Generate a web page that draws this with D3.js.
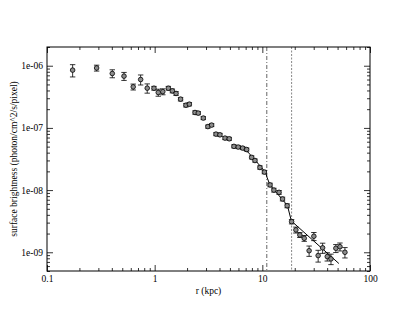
<!DOCTYPE html>
<html><head><meta charset="utf-8">
<script src="https://cdn.jsdelivr.net/npm/d3@7"></script>
<style>body{margin:0;background:#fff}svg{display:block}</style>
</head><body>
<script>
const radius = [0.173,0.289,0.404,0.519,0.632,0.741,0.853,0.985,1.08,1.19,1.34,1.46,1.58,1.74,1.95,2.10,2.37,2.54,2.83,3.12,3.38,3.71,4.04,4.50,4.93,5.45,5.97,6.56,7.15,7.96,8.54,9.50,10.45,11.8,12.8,14.3,15.4,17.0,18.7,20.5,22.3,24.5,27.2,30.1,33.0,36.3,40.1,43.4,48.2,52.6,58.5];
const brightness = [8.5e-7,9.2e-7,7.5e-7,6.8e-7,4.57e-7,6.0e-7,4.36e-7,4.35e-7,3.71e-7,3.83e-7,4.35e-7,3.94e-7,3.58e-7,2.90e-7,2.32e-7,2.41e-7,1.77e-7,1.73e-7,1.44e-7,1.05e-7,1.11e-7,7.95e-8,7.74e-8,6.86e-8,6.68e-8,5.05e-8,4.92e-8,4.74e-8,4.49e-8,3.36e-8,2.99e-8,2.31e-8,1.95e-8,1.21e-8,1.0e-8,9.2e-9,7.2e-9,5.6e-9,3.11e-9,2.29e-9,1.90e-9,1.68e-9,1.06e-9,1.81e-9,8.85e-10,1.18e-9,8.53e-10,7.83e-10,1.16e-9,1.23e-9,1.0e-9];
const errors = [1.9e-7,1.0e-7,1.1e-7,1.0e-7,5e-8,1.1e-7,7.4e-8,3e-8,4.8e-8,4.2e-8,3e-8,2.8e-8,2.5e-8,1.9e-8,1.5e-8,1.5e-8,1.1e-8,1.0e-8,8e-9,6e-9,6e-9,4.5e-9,4.3e-9,3.8e-9,3.7e-9,2.8e-9,2.7e-9,2.6e-9,2.5e-9,1.9e-9,1.7e-9,1.4e-9,1.2e-9,8e-10,7e-10,6.5e-10,5e-10,4e-10,2.5e-10,2.5e-10,1.7e-10,1.8e-10,2.0e-10,2.7e-10,1.9e-10,2.2e-10,1.3e-10,1.5e-10,1.7e-10,1.8e-10,1.9e-10];
const modelR = [5.22,6.19,7.35,8.72,10.73,11.03,11.77,17.1,18.6,51.4];
const modelSB = [5.40e-8,4.74e-8,4.09e-8,2.93e-8,1.92e-8,1.62e-8,1.21e-8,5.66e-9,3.19e-9,6.6e-10];
const edgeR = [11.0, 18.7];
const xTicks = [0.1,1,10,100];
const xTickLabels = ["0.1","1","10","100"];
const yTicks = [1e-9,1e-8,1e-7,1e-6];
const yTickLabels = ["1e-09","1e-08","1e-07","1e-06"];
const xTitle = "r (kpc)";
const yTitle = "surface brightness (photon/cm^2/s/pixel)";

const W=415,H=321, L=47,R=370,T=47,B=271;
const svg=d3.select("body").append("svg").attr("width",W).attr("height",H);
const x=d3.scaleLog().domain([0.1,100]).range([L,R]);
const y=d3.scaleLog().domain([5e-10,2e-6]).range([B,T]);
const font="'Liberation Serif','Times New Roman',serif";

function minors(dom){const out=[];const lo=Math.floor(Math.log10(dom[0])),hi=Math.ceil(Math.log10(dom[1]));
 for(let e=lo;e<=hi;e++)for(let m=2;m<=9;m++){const v=m*Math.pow(10,e);if(v>=dom[0]*0.999&&v<=dom[1]*1.001)out.push(v);}return out;}
const xMin=minors(x.domain()), yMin=minors(y.domain());

// vertical edges
const dashes=["4,2,1,2","2,1.5"];
const edgeCol=["#222","#555"];
svg.selectAll("line.edge").data(edgeR).join("line").attr("class","edge")
 .attr("x1",d=>x(d)).attr("x2",d=>x(d)).attr("y1",T).attr("y2",B)
 .attr("stroke",(d,i)=>edgeCol[i]).attr("stroke-width",0.7).attr("stroke-dasharray",(d,i)=>dashes[i]);

// model line
svg.append("path").datum(modelR.map((r,i)=>[r,modelSB[i]]))
 .attr("d",d3.line().x(d=>x(d[0])).y(d=>y(d[1])))
 .attr("fill","none").attr("stroke","#000").attr("stroke-width",1);

// error bars
const pts=radius.map((r,i)=>({r,v:brightness[i],e:errors[i]}));
const g=svg.append("g");
pts.forEach(p=>{
 const px=x(p.r), y1=y(p.v+p.e), y0=y(Math.max(p.v-p.e,1e-12));
 g.append("line").attr("x1",px).attr("x2",px).attr("y1",y1).attr("y2",y0).attr("stroke","#000").attr("stroke-width",0.8);
 [y1,y0].forEach(yy=>g.append("line").attr("x1",px-2.7).attr("x2",px+2.7).attr("y1",yy).attr("y2",yy).attr("stroke","#000").attr("stroke-width",0.8));
});
g.selectAll("circle").data(pts).join("circle").attr("cx",d=>x(d.r)).attr("cy",d=>y(d.v)).attr("r",2.3)
 .attr("fill","#8c8c8c").attr("stroke","#000").attr("stroke-width",0.8);

// axes
function ax(gen,tx,ty){const a=svg.append("g").attr("transform",`translate(${tx},${ty})`).call(gen);
 a.select(".domain").remove(); a.selectAll("line").attr("stroke","#000").attr("stroke-width",0.8);
 a.selectAll("text").attr("font-family",font).attr("font-size",9.5).attr("fill","#000"); return a;}
ax(d3.axisBottom(x).tickValues(xTicks).tickFormat((d,i)=>xTickLabels[i]).tickSize(-6).tickPadding(4),0,B);
ax(d3.axisBottom(x).tickValues(xMin).tickFormat("").tickSize(-3),0,B);
ax(d3.axisTop(x).tickValues(xTicks).tickFormat("").tickSize(-6),0,T);
ax(d3.axisTop(x).tickValues(xMin).tickFormat("").tickSize(-3),0,T);
ax(d3.axisLeft(y).tickValues(yTicks).tickFormat((d,i)=>yTickLabels[i]).tickSize(-6).tickPadding(4),L,0);
ax(d3.axisLeft(y).tickValues(yMin).tickFormat("").tickSize(-3),L,0);
ax(d3.axisRight(y).tickValues(yTicks).tickFormat("").tickSize(-6),R,0);
ax(d3.axisRight(y).tickValues(yMin).tickFormat("").tickSize(-3),R,0);

svg.append("rect").attr("x",L).attr("y",T).attr("width",R-L).attr("height",B-T)
 .attr("fill","none").attr("stroke","#000").attr("stroke-width",1);

svg.append("text").attr("x",(L+R)/2).attr("y",294).attr("text-anchor","middle")
 .attr("font-family",font).attr("font-size",9.5).text(xTitle);
svg.append("text").attr("transform",`translate(17,${(T+B)/2}) rotate(-90)`).attr("text-anchor","middle")
 .attr("font-family",font).attr("font-size",9.5).text(yTitle);
</script>
</body></html>
